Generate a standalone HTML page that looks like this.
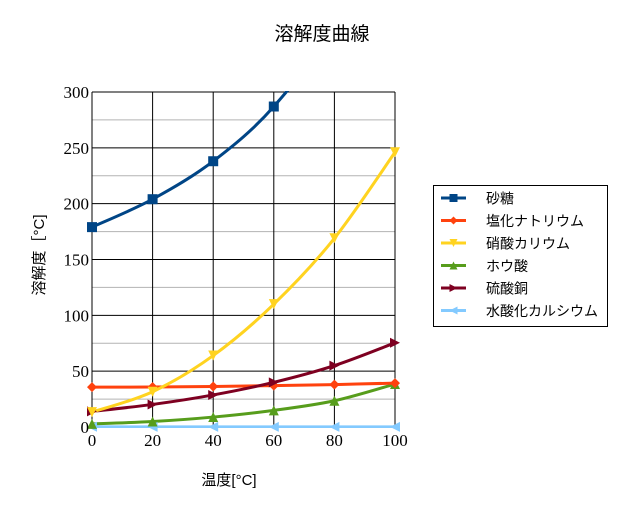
<!DOCTYPE html>
<html><head><meta charset="utf-8"><style>
body{margin:0;background:#fff;}
text{font-family:"Liberation Serif","Noto Sans CJK JP",serif;}
.jp{font-family:"Liberation Sans","Noto Sans CJK JP",sans-serif;}
</style></head><body>
<svg id="chart" width="636" height="512" xmlns="http://www.w3.org/2000/svg">
<defs><clipPath id="clip"><rect x="92" y="91" width="304" height="337"/></clipPath></defs>
<text class="jp" x="322" y="40" text-anchor="middle" font-size="19">溶解度曲線</text>
<text class="jp" x="229" y="485" text-anchor="middle" font-size="15">温度[°C]</text>
<text class="jp" transform="translate(44,255) rotate(-90)" text-anchor="middle" font-size="15">溶解度［°C]</text>
<g id="grid"></g><g id="series" clip-path="url(#clip)"></g><g id="marks"></g><g id="ticks"></g>
<g id="legend"></g>
</svg>
<script>
const xValues=[0,20,40,60,80,100];
const names=["砂糖","塩化ナトリウム","硝酸カリウム","ホウ酸","硫酸銅","水酸化カルシウム"];
const sugar=[179,204,238,287,362,485];
const nacl=[35.7,35.8,36.3,37.1,38,39.3];
const kno3=[13.3,31.6,64,110,169,246];
const boric=[2.8,4.9,8.9,14.9,23.5,38.5];
const cuso4=[14,20.2,28.7,40,55,75.4];
const caoh=[0.17,0.16,0.13,0.11,0.09,0.08];
const yTicks=[0,50,100,150,200,250,300];
const xTicks=[0,20,40,60,80,100];
const seriesList=[sugar,nacl,kno3,boric,cuso4,caoh];
const colors=["#004586","#ff420e","#ffd320","#579d1c","#7e0021","#83caff"];
const markers=["square","diamond","down","up","right","left"];
const X0=92,X1=395,Y0=427,Y1=92;
const sx=v=>X0+(v/100)*(X1-X0), sy=v=>Y0-(v/300)*(Y0-Y1);
const NS="http://www.w3.org/2000/svg";
function mk(tag,attrs,parent){const e=document.createElementNS(NS,tag);for(const k in attrs)e.setAttribute(k,attrs[k]);parent.appendChild(e);return e;}
const grid=document.getElementById('grid'),ticks=document.getElementById('ticks');
for(let v=0;v<=300;v+=25){const l=mk('line',{x1:X0,x2:X1,y1:sy(v),y2:sy(v),stroke:v%50?'#b3b3b3':'#000','stroke-width':1},grid);
}
xTicks.forEach(v=>{const l=mk('line',{x1:sx(v),x2:sx(v),y1:Y1,y2:Y0,stroke:'#000','stroke-width':1},grid);
});
yTicks.forEach(v=>{const t=mk('text',{x:X0-3,y:sy(v)+6,'text-anchor':'end','font-size':17},ticks);t.textContent=v;
});
xTicks.forEach(v=>{const t=mk('text',{x:sx(v),y:Y0+19,'text-anchor':'middle','font-size':17},ticks);t.textContent=v;
});
function pathD(pts){let d=`M${pts[0][0]},${pts[0][1]}`;for(let i=0;i<pts.length-1;i++){const p0=pts[i-1]||pts[i],p1=pts[i],p2=pts[i+1],p3=pts[i+2]||p2;
d+=` C${p1[0]+(p2[0]-p0[0])/6},${p1[1]+(p2[1]-p0[1])/6} ${p2[0]-(p3[0]-p1[0])/6},${p2[1]-(p3[1]-p1[1])/6} ${p2[0]},${p2[1]}`;}return d;}
function marker(type,x,y,c,parent,s){s=s||5;let e;
if(type=='square')e=mk('rect',{x:x-s,y:y-s,width:2*s,height:2*s,fill:c},parent);
else{let p;if(type=='diamond')p=[[x,y-s],[x+s,y],[x,y+s],[x-s,y]];else if(type=='down')p=[[x-s,y-s],[x+s,y-s],[x,y+s]];
else if(type=='up')p=[[x-s,y+s],[x+s,y+s],[x,y-s]];else if(type=='right')p=[[x-s,y-s],[x+s,y],[x-s,y+s]];else p=[[x+s,y-s],[x-s,y],[x+s,y+s]];
e=mk('polygon',{points:p.map(q=>q.join(',')).join(' '),fill:c},parent);}return e;}
const sg=document.getElementById('series'),mg=document.getElementById('marks');
[5,3,1,4,2,0].forEach(i=>{const pts=xValues.map((x,j)=>[sx(x),sy(seriesList[i][j])]);
const p=mk('path',{d:pathD(pts),fill:'none',stroke:colors[i],'stroke-width':3},sg);

pts.forEach(q=>{if(q[1]<Y1-2)return;const m=marker(markers[i],q[0],q[1],colors[i],mg);
});});
const lg=document.getElementById('legend');
mk('rect',{x:433.5,y:185.5,width:174,height:141,fill:'#fff',stroke:'#000'},lg);
names.forEach((n,i)=>{const y=198+i*22.5;mk('line',{x1:441,x2:466,y1:y,y2:y,stroke:colors[i],'stroke-width':3},lg);
const m=marker(markers[i],453.5,y,colors[i],lg,4);
const t=mk('text',{x:486,y:y+5.5,'font-size':14,class:'jp'},lg);t.textContent=n;
});
</script>
</body></html>
